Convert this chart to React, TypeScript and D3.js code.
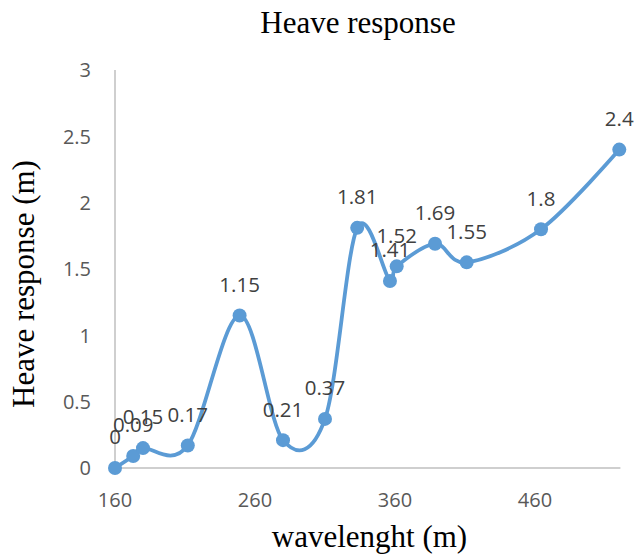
import React from "react";
import * as d3 from "d3";

const wavelengths = [160, 173, 180, 212, 249, 280, 310, 333, 356.4, 361.2, 388.6, 411.2, 464.3, 520.2];
const heave = [0, 0.09, 0.15, 0.17, 1.15, 0.21, 0.37, 1.81, 1.41, 1.52, 1.69, 1.55, 1.8, 2.4];
const pointLabels = ["0", "0.09", "0.15", "0.17", "1.15", "0.21", "0.37", "1.81", "1.41", "1.52", "1.69", "1.55", "1.8", "2.4"];
const xTicks = [160, 260, 360, 460];
const yTicks = [0, 0.5, 1, 1.5, 2, 2.5, 3];
const yTickLabels = ["0", "0.5", "1", "1.5", "2", "2.5", "3"];

const W = 636;
const H = 558;
const BLUE = "#5B9BD5";
const SANS = "'Open Sans', 'Noto Sans', sans-serif";
const SERIF = "'Liberation Serif', 'DejaVu Serif', serif";

export default function App() {
  const x = d3.scaleLinear().domain([160, 521]).range([115, 620.4]);
  const y = d3.scaleLinear().domain([0, 3]).range([468, 70]);
  const pts: [number, number][] = wavelengths.map((w, i) => [w, heave[i]]);
  const line = d3
    .line<[number, number]>()
    .x((d) => x(d[0]))
    .y((d) => y(d[1]))
    .curve(d3.curveCardinal.tension(0));
  const [x0, x1] = x.range();
  const [y0, y1] = y.range();

  return (
    <svg
      width={W}
      height={H}
      style={{ position: "absolute", left: 0, top: 0, background: "#fff" }}
    >
      <rect x={0} y={0} width={W} height={H} fill="#fff" />
      <text x={358} y={33} textAnchor="middle" fontFamily={SERIF} fontSize={31} fill="#000">
        Heave response
      </text>

      <line x1={x0} x2={x0} y1={y1} y2={y0} stroke="#BFBFBF" strokeWidth={1.5} />
      <line x1={x0} x2={x1} y1={y0} y2={y0} stroke="#BFBFBF" strokeWidth={1.5} />

      {yTicks.map((t, i) => (
        <text
          key={"y" + t}
          x={91}
          y={y(t)}
          dy="0.36em"
          textAnchor="end"
          fontFamily={SANS}
          fontSize={20}
          fill="#595959"
        >
          {yTickLabels[i]}
        </text>
      ))}
      {xTicks.map((t) => (
        <text
          key={"x" + t}
          x={x(t)}
          y={507}
          textAnchor="middle"
          fontFamily={SANS}
          fontSize={20}
          fill="#595959"
        >
          {t}
        </text>
      ))}

      <text x={369.5} y={547} textAnchor="middle" fontFamily={SERIF} fontSize={31} fill="#000">
        wavelenght (m)
      </text>
      <text
        transform={`translate(34,284) rotate(-90)`}
        textAnchor="middle"
        fontFamily={SERIF}
        fontSize={31}
        fill="#000"
      >
        Heave response (m)
      </text>

      <path d={line(pts) || ""} fill="none" stroke={BLUE} strokeWidth={3.8} strokeLinejoin="round" strokeLinecap="round" />
      {pts.map((d, i) => (
        <circle key={"c" + i} cx={x(d[0])} cy={y(d[1])} r={7} fill={BLUE} />
      ))}
      {pts.map((d, i) => (
        <text
          key={"l" + i}
          x={x(d[0])}
          y={y(d[1]) - 31}
          dy="0.36em"
          textAnchor="middle"
          fontFamily={SANS}
          fontSize={20.5}
          fill="#404040"
        >
          {pointLabels[i]}
        </text>
      ))}
    </svg>
  );
}
